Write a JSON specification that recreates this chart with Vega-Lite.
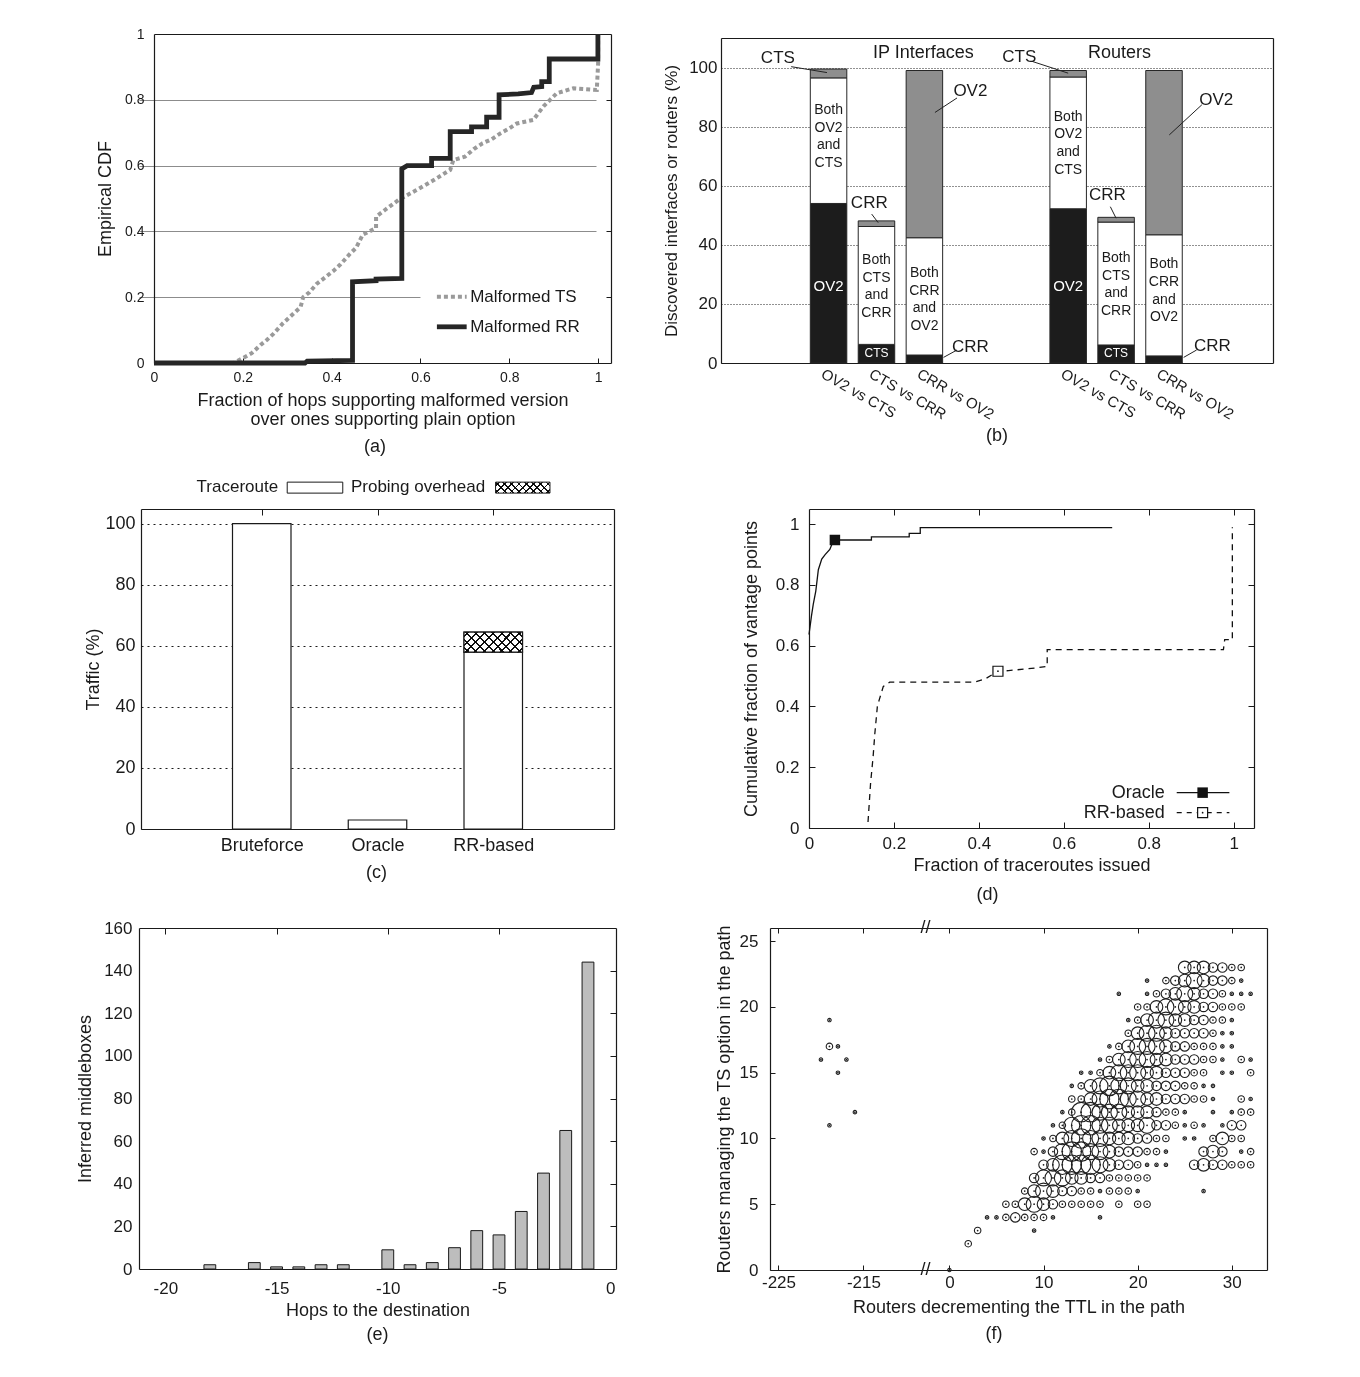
{
"$schema": "https://vega.github.io/schema/vega-lite/v6.json",
"background": "white",
"padding": {"left": 76, "top": 24, "right": 5, "bottom": 5},
"columns": 2,
"bounds": "flush",
"align": "each",
"spacing": {"row": 99, "column": 105},
"resolve": {"scale": {"color": "independent", "size": "independent"}},
"config": {
  "font": "Liberation Sans, Arial, sans-serif",
  "view": {"stroke": null},
  "axis": {"domainColor": "#1a1a1a", "tickColor": "#1a1a1a", "labelColor": "#1a1a1a", "titleColor": "#1a1a1a", "titleFontWeight": "normal", "grid": false, "labelFlush": false, "domainWidth": 1.2, "labelOverlap": false},
  "title": {"fontWeight": "normal", "color": "#1a1a1a", "fontSize": 18},
  "text": {"color": "#1a1a1a"}
},
"datasets": {
  "one": [{}],
  "aCdf": [
    {"s":"Malformed TS","i":0,"x":0,"y":0},{"s":"Malformed TS","i":1,"x":0.18,"y":0},{"s":"Malformed TS","i":2,"x":0.2,"y":0.015},{"s":"Malformed TS","i":3,"x":0.22,"y":0.03},{"s":"Malformed TS","i":4,"x":0.24,"y":0.055},{"s":"Malformed TS","i":5,"x":0.254,"y":0.07},{"s":"Malformed TS","i":6,"x":0.27,"y":0.09},{"s":"Malformed TS","i":7,"x":0.29,"y":0.12},{"s":"Malformed TS","i":8,"x":0.31,"y":0.145},{"s":"Malformed TS","i":9,"x":0.33,"y":0.17},{"s":"Malformed TS","i":10,"x":0.336,"y":0.2},{"s":"Malformed TS","i":11,"x":0.35,"y":0.215},{"s":"Malformed TS","i":12,"x":0.366,"y":0.24},{"s":"Malformed TS","i":13,"x":0.385,"y":0.26},{"s":"Malformed TS","i":14,"x":0.404,"y":0.28},{"s":"Malformed TS","i":15,"x":0.42,"y":0.3},{"s":"Malformed TS","i":16,"x":0.44,"y":0.33},{"s":"Malformed TS","i":17,"x":0.455,"y":0.35},{"s":"Malformed TS","i":18,"x":0.47,"y":0.39},{"s":"Malformed TS","i":19,"x":0.5,"y":0.41},{"s":"Malformed TS","i":20,"x":0.5,"y":0.445},{"s":"Malformed TS","i":21,"x":0.52,"y":0.465},{"s":"Malformed TS","i":22,"x":0.55,"y":0.495},{"s":"Malformed TS","i":23,"x":0.59,"y":0.525},{"s":"Malformed TS","i":24,"x":0.63,"y":0.556},{"s":"Malformed TS","i":25,"x":0.667,"y":0.587},{"s":"Malformed TS","i":26,"x":0.674,"y":0.617},{"s":"Malformed TS","i":27,"x":0.7,"y":0.627},{"s":"Malformed TS","i":28,"x":0.72,"y":0.65},{"s":"Malformed TS","i":29,"x":0.74,"y":0.668},{"s":"Malformed TS","i":30,"x":0.76,"y":0.68},{"s":"Malformed TS","i":31,"x":0.78,"y":0.698},{"s":"Malformed TS","i":32,"x":0.8,"y":0.713},{"s":"Malformed TS","i":33,"x":0.817,"y":0.728},{"s":"Malformed TS","i":34,"x":0.854,"y":0.739},{"s":"Malformed TS","i":35,"x":0.877,"y":0.78},{"s":"Malformed TS","i":36,"x":0.907,"y":0.82},{"s":"Malformed TS","i":37,"x":0.944,"y":0.835},{"s":"Malformed TS","i":38,"x":0.997,"y":0.83},{"s":"Malformed TS","i":39,"x":1.0,"y":0.91},{"s":"Malformed TS","i":40,"x":1.0,"y":1.0},
    {"s":"Malformed RR","i":0,"x":0,"y":0},{"s":"Malformed RR","i":1,"x":0.34,"y":0},{"s":"Malformed RR","i":2,"x":0.345,"y":0.006},{"s":"Malformed RR","i":3,"x":0.447,"y":0.008},{"s":"Malformed RR","i":4,"x":0.447,"y":0.247},{"s":"Malformed RR","i":5,"x":0.5,"y":0.25},{"s":"Malformed RR","i":6,"x":0.5,"y":0.255},{"s":"Malformed RR","i":7,"x":0.558,"y":0.257},{"s":"Malformed RR","i":8,"x":0.558,"y":0.59},{"s":"Malformed RR","i":9,"x":0.57,"y":0.6},{"s":"Malformed RR","i":10,"x":0.625,"y":0.6},{"s":"Malformed RR","i":11,"x":0.625,"y":0.622},{"s":"Malformed RR","i":12,"x":0.667,"y":0.622},{"s":"Malformed RR","i":13,"x":0.667,"y":0.703},{"s":"Malformed RR","i":14,"x":0.715,"y":0.703},{"s":"Malformed RR","i":15,"x":0.715,"y":0.718},{"s":"Malformed RR","i":16,"x":0.749,"y":0.718},{"s":"Malformed RR","i":17,"x":0.749,"y":0.747},{"s":"Malformed RR","i":18,"x":0.777,"y":0.747},{"s":"Malformed RR","i":19,"x":0.777,"y":0.815},{"s":"Malformed RR","i":20,"x":0.82,"y":0.818},{"s":"Malformed RR","i":21,"x":0.85,"y":0.822},{"s":"Malformed RR","i":22,"x":0.855,"y":0.838},{"s":"Malformed RR","i":23,"x":0.873,"y":0.84},{"s":"Malformed RR","i":24,"x":0.873,"y":0.855},{"s":"Malformed RR","i":25,"x":0.89,"y":0.855},{"s":"Malformed RR","i":26,"x":0.89,"y":0.924},{"s":"Malformed RR","i":27,"x":0.9995,"y":0.924},{"s":"Malformed RR","i":28,"x":0.9995,"y":1.0}
  ],
  "bBars": [
    {"pos":1,"seg":"only first","k":1,"v":54},{"pos":1,"seg":"both","k":2,"v":42.5},{"pos":1,"seg":"only second","k":3,"v":3},
    {"pos":2,"seg":"only first","k":1,"v":6.3},{"pos":2,"seg":"both","k":2,"v":39.9},{"pos":2,"seg":"only second","k":3,"v":1.9},
    {"pos":3,"seg":"only first","k":1,"v":2.7},{"pos":3,"seg":"both","k":2,"v":39.7},{"pos":3,"seg":"only second","k":3,"v":56.6},
    {"pos":6,"seg":"only first","k":1,"v":52.2},{"pos":6,"seg":"both","k":2,"v":44.6},{"pos":6,"seg":"only second","k":3,"v":2.2},
    {"pos":7,"seg":"only first","k":1,"v":6.1},{"pos":7,"seg":"both","k":2,"v":41.6},{"pos":7,"seg":"only second","k":3,"v":1.6},
    {"pos":8,"seg":"only first","k":1,"v":2.4},{"pos":8,"seg":"both","k":2,"v":41.0},{"pos":8,"seg":"only second","k":3,"v":55.6}
  ],
  "bAnnLines": [
    {"x":0.22,"y":100.3,"x2":0.967,"y2":98.3},{"x":1.9,"y":50.4,"x2":2.036,"y2":47.5},{"x":3.68,"y":89.7,"x2":3.22,"y2":84.8},{"x":3.68,"y":4.4,"x2":3.4,"y2":1.9},
    {"x":5.245,"y":102.1,"x2":6.0,"y2":98.1},{"x":6.88,"y":52.9,"x2":7.0,"y2":49.0},{"x":8.79,"y":87.4,"x2":8.11,"y2":77.2},{"x":8.68,"y":4.4,"x2":8.41,"y2":1.9}
  ],
  "bAnnText": [
    {"x":-0.058,"y":103.3,"t":"CTS"},{"x":1.85,"y":54.1,"t":"CRR"},{"x":3.96,"y":91.9,"t":"OV2"},{"x":3.96,"y":5.5,"t":"CRR"},
    {"x":4.98,"y":103.7,"t":"CTS"},{"x":6.82,"y":56.9,"t":"CRR"},{"x":9.09,"y":89.1,"t":"OV2"},{"x":9.01,"y":5.8,"t":"CRR"}
  ],
  "bTitles": [{"x":2.98,"y":104.9,"t":"IP Interfaces"},{"x":7.07,"y":105,"t":"Routers"}],
  "bInDark": [
    {"x":1,"y":85.6,"t":"Both\nOV2\nand\nCTS"},{"x":2,"y":34.9,"t":"Both\nCTS\nand\nCRR"},{"x":3,"y":30.5,"t":"Both\nCRR\nand\nOV2"},
    {"x":6,"y":83.4,"t":"Both\nOV2\nand\nCTS"},{"x":7,"y":35.6,"t":"Both\nCTS\nand\nCRR"},{"x":8,"y":33.4,"t":"Both\nCRR\nand\nOV2"}
  ],
  "bInWhite": [{"x":1,"y":26.2,"t":"OV2"},{"x":6,"y":26.2,"t":"OV2"}],
  "bInSmall": [{"x":2,"y":3.5,"t":"CTS"},{"x":7,"y":3.4,"t":"CTS"}],
  "cBars": [
    {"pos":1,"m":"Bruteforce","kind":"Traceroute","k":1,"v":100},
    {"pos":2,"m":"Oracle","kind":"Traceroute","k":1,"v":2.95},
    {"pos":3,"m":"RR-based","kind":"Traceroute","k":1,"v":57.9},
    {"pos":3,"m":"RR-based","kind":"Probing overhead","k":2,"v":6.6}
  ],
  "dLines": [
    {"s":"Oracle","i":0,"x":0,"y":0.637},{"s":"Oracle","i":1,"x":0.006,"y":0.7},{"s":"Oracle","i":2,"x":0.01,"y":0.736},{"s":"Oracle","i":3,"x":0.016,"y":0.78},{"s":"Oracle","i":4,"x":0.022,"y":0.85},{"s":"Oracle","i":5,"x":0.03,"y":0.885},{"s":"Oracle","i":6,"x":0.038,"y":0.9},{"s":"Oracle","i":7,"x":0.049,"y":0.917},{"s":"Oracle","i":8,"x":0.054,"y":0.934},{"s":"Oracle","i":9,"x":0.058,"y":0.948},{"s":"Oracle","i":10,"x":0.147,"y":0.948},{"s":"Oracle","i":11,"x":0.147,"y":0.958},{"s":"Oracle","i":12,"x":0.236,"y":0.958},{"s":"Oracle","i":13,"x":0.236,"y":0.97},{"s":"Oracle","i":14,"x":0.262,"y":0.97},{"s":"Oracle","i":15,"x":0.262,"y":0.989},{"s":"Oracle","i":16,"x":0.714,"y":0.989},
    {"s":"RR-based","i":0,"x":0.139,"y":0.02},{"s":"RR-based","i":1,"x":0.145,"y":0.147},{"s":"RR-based","i":2,"x":0.151,"y":0.235},{"s":"RR-based","i":3,"x":0.155,"y":0.31},{"s":"RR-based","i":4,"x":0.161,"y":0.4},{"s":"RR-based","i":5,"x":0.165,"y":0.42},{"s":"RR-based","i":6,"x":0.175,"y":0.466},{"s":"RR-based","i":7,"x":0.19,"y":0.48},{"s":"RR-based","i":8,"x":0.39,"y":0.48},{"s":"RR-based","i":9,"x":0.414,"y":0.49},{"s":"RR-based","i":10,"x":0.445,"y":0.516},{"s":"RR-based","i":11,"x":0.47,"y":0.518},{"s":"RR-based","i":12,"x":0.535,"y":0.527},{"s":"RR-based","i":13,"x":0.561,"y":0.532},{"s":"RR-based","i":14,"x":0.561,"y":0.587},{"s":"RR-based","i":15,"x":0.976,"y":0.587},{"s":"RR-based","i":16,"x":0.979,"y":0.62},{"s":"RR-based","i":17,"x":0.997,"y":0.62},{"s":"RR-based","i":18,"x":0.997,"y":0.99}
  ],
  "dMarkOracle": [{"x":0.061,"y":0.948}],
  "dMarkRR": [{"x":0.445,"y":0.516}],
  "eBars": [
    {"hop":-18,"n":2},{"hop":-16,"n":3},{"hop":-15,"n":1},{"hop":-14,"n":1},{"hop":-13,"n":2},{"hop":-12,"n":2},{"hop":-10,"n":9},{"hop":-9,"n":2},{"hop":-8,"n":3},{"hop":-7,"n":10},{"hop":-6,"n":18},{"hop":-5,"n":16},{"hop":-4,"n":27},{"hop":-3,"n":45},{"hop":-2,"n":65},{"hop":-1,"n":144}
  ],
  "fBreak": [{"x":-100,"y":0},{"x":-100,"y":26}],
  "fPts": [
    {"x":-219,"y":19,"s":1},{"x":-219,"y":17,"s":2},{"x":-218,"y":17,"s":1},{"x":-220,"y":16,"s":1},{"x":-217,"y":16,"s":1},{"x":-218,"y":15,"s":1},{"x":-216,"y":12,"s":1},{"x":-219,"y":11,"s":1},
    {"x":0,"y":0,"s":1},{"x":2,"y":2,"s":2},{"x":3,"y":3,"s":2},{"x":9,"y":3,"s":1},
    {"x":4,"y":4,"s":1},{"x":5,"y":4,"s":1},{"x":6,"y":4,"s":2},{"x":7,"y":4,"s":3},{"x":8,"y":4,"s":2},{"x":9,"y":4,"s":2},{"x":10,"y":4,"s":2},{"x":11,"y":4,"s":1},{"x":16,"y":4,"s":1},
    {"x":6,"y":5,"s":2},{"x":7,"y":5,"s":2},{"x":8,"y":5,"s":4},{"x":9,"y":5,"s":5},{"x":10,"y":5,"s":4},{"x":11,"y":5,"s":3},{"x":12,"y":5,"s":2},{"x":13,"y":5,"s":2},{"x":14,"y":5,"s":2},{"x":15,"y":5,"s":2},{"x":16,"y":5,"s":2},{"x":18,"y":5,"s":2},{"x":20,"y":5,"s":2},{"x":21,"y":5,"s":2},
    {"x":8,"y":6,"s":2},{"x":9,"y":6,"s":4},{"x":10,"y":6,"s":5},{"x":11,"y":6,"s":4},{"x":12,"y":6,"s":3},{"x":13,"y":6,"s":3},{"x":14,"y":6,"s":2},{"x":15,"y":6,"s":2},{"x":16,"y":6,"s":1},{"x":17,"y":6,"s":2},{"x":18,"y":6,"s":2},{"x":19,"y":6,"s":2},{"x":20,"y":6,"s":1},{"x":27,"y":6,"s":1},
    {"x":9,"y":7,"s":3},{"x":10,"y":7,"s":5},{"x":11,"y":7,"s":5},{"x":12,"y":7,"s":5},{"x":13,"y":7,"s":4},{"x":14,"y":7,"s":4},{"x":15,"y":7,"s":3},{"x":16,"y":7,"s":3},{"x":17,"y":7,"s":2},{"x":18,"y":7,"s":2},{"x":19,"y":7,"s":2},{"x":20,"y":7,"s":2},{"x":21,"y":7,"s":2},
    {"x":10,"y":8,"s":3},{"x":11,"y":8,"s":4},{"x":12,"y":8,"s":6},{"x":13,"y":8,"s":6},{"x":14,"y":8,"s":6},{"x":15,"y":8,"s":6},{"x":16,"y":8,"s":5},{"x":17,"y":8,"s":4},{"x":18,"y":8,"s":3},{"x":19,"y":8,"s":3},{"x":20,"y":8,"s":2},{"x":21,"y":8,"s":1},{"x":22,"y":8,"s":1},{"x":23,"y":8,"s":1},{"x":26,"y":8,"s":3},{"x":27,"y":8,"s":4},{"x":28,"y":8,"s":3},{"x":29,"y":8,"s":3},{"x":30,"y":8,"s":2},{"x":31,"y":8,"s":2},{"x":32,"y":8,"s":2},
    {"x":9,"y":9,"s":2},{"x":10,"y":9,"s":1},{"x":11,"y":9,"s":3},{"x":12,"y":9,"s":5},{"x":13,"y":9,"s":6},{"x":14,"y":9,"s":6},{"x":15,"y":9,"s":5},{"x":16,"y":9,"s":5},{"x":17,"y":9,"s":4},{"x":18,"y":9,"s":3},{"x":19,"y":9,"s":3},{"x":20,"y":9,"s":3},{"x":21,"y":9,"s":2},{"x":22,"y":9,"s":2},{"x":23,"y":9,"s":1},{"x":27,"y":9,"s":3},{"x":28,"y":9,"s":4},{"x":29,"y":9,"s":3},{"x":31,"y":9,"s":1},{"x":32,"y":9,"s":2},
    {"x":10,"y":10,"s":1},{"x":11,"y":10,"s":2},{"x":12,"y":10,"s":4},{"x":13,"y":10,"s":5},{"x":14,"y":10,"s":6},{"x":15,"y":10,"s":5},{"x":16,"y":10,"s":5},{"x":17,"y":10,"s":4},{"x":18,"y":10,"s":4},{"x":19,"y":10,"s":4},{"x":20,"y":10,"s":3},{"x":21,"y":10,"s":3},{"x":22,"y":10,"s":2},{"x":23,"y":10,"s":2},{"x":25,"y":10,"s":1},{"x":26,"y":10,"s":1},{"x":28,"y":10,"s":2},{"x":29,"y":10,"s":4},{"x":30,"y":10,"s":2},{"x":31,"y":10,"s":2},
    {"x":11,"y":11,"s":1},{"x":12,"y":11,"s":2},{"x":13,"y":11,"s":5},{"x":14,"y":11,"s":6},{"x":15,"y":11,"s":6},{"x":16,"y":11,"s":5},{"x":17,"y":11,"s":5},{"x":18,"y":11,"s":4},{"x":19,"y":11,"s":4},{"x":20,"y":11,"s":4},{"x":21,"y":11,"s":5},{"x":22,"y":11,"s":3},{"x":23,"y":11,"s":3},{"x":24,"y":11,"s":2},{"x":25,"y":11,"s":1},{"x":26,"y":11,"s":2},{"x":27,"y":11,"s":1},{"x":29,"y":11,"s":1},{"x":30,"y":11,"s":3},{"x":31,"y":11,"s":3},
    {"x":12,"y":12,"s":1},{"x":13,"y":12,"s":2},{"x":14,"y":12,"s":6},{"x":15,"y":12,"s":6},{"x":16,"y":12,"s":5},{"x":17,"y":12,"s":5},{"x":18,"y":12,"s":5},{"x":19,"y":12,"s":4},{"x":20,"y":12,"s":4},{"x":21,"y":12,"s":4},{"x":22,"y":12,"s":3},{"x":23,"y":12,"s":2},{"x":24,"y":12,"s":2},{"x":25,"y":12,"s":1},{"x":28,"y":12,"s":1},{"x":30,"y":12,"s":1},{"x":31,"y":12,"s":2},{"x":32,"y":12,"s":2},
    {"x":13,"y":13,"s":2},{"x":14,"y":13,"s":2},{"x":15,"y":13,"s":4},{"x":16,"y":13,"s":5},{"x":17,"y":13,"s":6},{"x":18,"y":13,"s":6},{"x":19,"y":13,"s":5},{"x":20,"y":13,"s":5},{"x":21,"y":13,"s":4},{"x":22,"y":13,"s":4},{"x":23,"y":13,"s":3},{"x":24,"y":13,"s":3},{"x":25,"y":13,"s":3},{"x":26,"y":13,"s":2},{"x":27,"y":13,"s":2},{"x":28,"y":13,"s":1},{"x":31,"y":13,"s":2},{"x":32,"y":13,"s":1},
    {"x":13,"y":14,"s":1},{"x":14,"y":14,"s":2},{"x":15,"y":14,"s":4},{"x":16,"y":14,"s":5},{"x":17,"y":14,"s":6},{"x":18,"y":14,"s":5},{"x":19,"y":14,"s":5},{"x":20,"y":14,"s":4},{"x":21,"y":14,"s":4},{"x":22,"y":14,"s":3},{"x":23,"y":14,"s":3},{"x":24,"y":14,"s":3},{"x":25,"y":14,"s":2},{"x":26,"y":14,"s":2},{"x":27,"y":14,"s":1},{"x":28,"y":14,"s":1},
    {"x":14,"y":15,"s":1},{"x":15,"y":15,"s":1},{"x":16,"y":15,"s":2},{"x":17,"y":15,"s":4},{"x":18,"y":15,"s":5},{"x":19,"y":15,"s":5},{"x":20,"y":15,"s":5},{"x":21,"y":15,"s":4},{"x":22,"y":15,"s":4},{"x":23,"y":15,"s":3},{"x":24,"y":15,"s":3},{"x":25,"y":15,"s":3},{"x":26,"y":15,"s":2},{"x":27,"y":15,"s":2},{"x":29,"y":15,"s":1},{"x":30,"y":15,"s":1},{"x":32,"y":15,"s":2},
    {"x":16,"y":16,"s":1},{"x":17,"y":16,"s":2},{"x":18,"y":16,"s":4},{"x":19,"y":16,"s":5},{"x":20,"y":16,"s":5},{"x":21,"y":16,"s":5},{"x":22,"y":16,"s":4},{"x":23,"y":16,"s":4},{"x":24,"y":16,"s":3},{"x":25,"y":16,"s":3},{"x":26,"y":16,"s":3},{"x":27,"y":16,"s":2},{"x":28,"y":16,"s":2},{"x":29,"y":16,"s":1},{"x":31,"y":16,"s":2},{"x":32,"y":16,"s":1},
    {"x":17,"y":17,"s":1},{"x":18,"y":17,"s":2},{"x":19,"y":17,"s":4},{"x":20,"y":17,"s":5},{"x":21,"y":17,"s":5},{"x":22,"y":17,"s":5},{"x":23,"y":17,"s":4},{"x":24,"y":17,"s":3},{"x":25,"y":17,"s":3},{"x":26,"y":17,"s":2},{"x":27,"y":17,"s":2},{"x":28,"y":17,"s":2},{"x":29,"y":17,"s":1},{"x":30,"y":17,"s":1},
    {"x":19,"y":18,"s":2},{"x":20,"y":18,"s":4},{"x":21,"y":18,"s":5},{"x":22,"y":18,"s":5},{"x":23,"y":18,"s":4},{"x":24,"y":18,"s":3},{"x":25,"y":18,"s":3},{"x":26,"y":18,"s":3},{"x":27,"y":18,"s":3},{"x":28,"y":18,"s":2},{"x":29,"y":18,"s":1},{"x":30,"y":18,"s":1},
    {"x":19,"y":19,"s":1},{"x":20,"y":19,"s":2},{"x":21,"y":19,"s":4},{"x":22,"y":19,"s":5},{"x":23,"y":19,"s":5},{"x":24,"y":19,"s":4},{"x":25,"y":19,"s":4},{"x":26,"y":19,"s":3},{"x":27,"y":19,"s":3},{"x":28,"y":19,"s":2},{"x":29,"y":19,"s":2},{"x":30,"y":19,"s":1},
    {"x":20,"y":20,"s":2},{"x":21,"y":20,"s":2},{"x":22,"y":20,"s":4},{"x":23,"y":20,"s":5},{"x":24,"y":20,"s":5},{"x":25,"y":20,"s":4},{"x":26,"y":20,"s":4},{"x":27,"y":20,"s":3},{"x":28,"y":20,"s":3},{"x":29,"y":20,"s":2},{"x":30,"y":20,"s":2},{"x":31,"y":20,"s":2},
    {"x":18,"y":21,"s":1},{"x":21,"y":21,"s":1},{"x":22,"y":21,"s":2},{"x":23,"y":21,"s":3},{"x":24,"y":21,"s":4},{"x":25,"y":21,"s":5},{"x":26,"y":21,"s":4},{"x":27,"y":21,"s":3},{"x":28,"y":21,"s":3},{"x":29,"y":21,"s":2},{"x":30,"y":21,"s":1},{"x":31,"y":21,"s":1},{"x":32,"y":21,"s":1},
    {"x":21,"y":22,"s":1},{"x":23,"y":22,"s":2},{"x":24,"y":22,"s":3},{"x":25,"y":22,"s":4},{"x":26,"y":22,"s":5},{"x":27,"y":22,"s":4},{"x":28,"y":22,"s":3},{"x":29,"y":22,"s":3},{"x":30,"y":22,"s":2},{"x":31,"y":22,"s":1},
    {"x":25,"y":23,"s":4},{"x":26,"y":23,"s":4},{"x":27,"y":23,"s":4},{"x":28,"y":23,"s":3},{"x":29,"y":23,"s":3},{"x":30,"y":23,"s":2},{"x":31,"y":23,"s":2}
  ]
},
"concat": [
  {
    "width": 472, "height": 376,
    "title": {"text": "(a)", "orient": "bottom", "offset": 10, "fontSize": 18},
    "layer": [
      {
        "data": {"name": "aCdf"},
        "transform": [{"filter": "datum.s === 'Malformed TS'"}],
        "mark": {"type": "line", "strokeCap": "butt", "color": "#9a9a9a", "strokeWidth": 4, "strokeDash": [4, 3]},
        "encoding": {
          "x": {"field": "x", "type": "quantitative", "scale": {"domain": [0, 1.029], "range": [15, 472], "nice": false, "zero": false},
            "axis": {"orient": "bottom", "offset": -47, "values": [0, 0.2, 0.4, 0.6, 0.8, 1], "format": "~g", "tickSize": -5, "labelPadding": 12, "labelFontSize": 14, "title": ["Fraction of hops supporting malformed version", "over ones supporting plain option"], "titleFontSize": 18, "titleLineHeight": 19, "titlePadding": 7}},
          "y": {"field": "y", "type": "quantitative", "scale": {"domain": [0, 1], "range": [329, 0], "nice": false},
            "axis": {"orient": "left", "offset": -15, "values": [0, 0.2, 0.4, 0.6, 0.8, 1], "format": "~g", "ticks": false, "labelPadding": 10, "labelFontSize": 14, "title": "Empirical CDF", "titleFontSize": 18, "titlePadding": 10}},
          "order": {"field": "i"}
        }
      },
      {
        "data": {"name": "aCdf"},
        "transform": [{"filter": "datum.s === 'Malformed RR'"}],
        "mark": {"type": "line", "strokeCap": "butt", "color": "#262626", "strokeWidth": 4.8},
        "encoding": {
          "x": {"field": "x", "type": "quantitative", "axis": {"orient": "top", "labels": false, "ticks": false, "title": null}},
          "y": {"field": "y", "type": "quantitative", "axis": {"orient": "right", "labels": false, "values": [0.2, 0.4, 0.6, 0.8], "tickSize": -5, "grid": true, "gridColor": "#8c8c8c", "gridWidth": 1, "title": null}},
          "order": {"field": "i"}
        }
      },
      {
        "data": {"name": "one"},
        "mark": {"type": "rect", "fill": "#ffffff"},
        "encoding": {"x": {"datum": 0.6, "type": "quantitative", "axis": null}, "x2": {"datum": 1.015}, "y": {"datum": 0.193, "type": "quantitative", "axis": null}, "y2": {"datum": 0.207}}
      },
      {
        "data": {"name": "one"},
        "mark": {"type": "rule", "color": "#9a9a9a", "strokeWidth": 4, "strokeDash": [4, 3], "strokeCap": "butt"},
        "encoding": {"x": {"datum": 0.637, "type": "quantitative", "axis": null}, "x2": {"datum": 0.704}, "y": {"datum": 0.2015, "type": "quantitative", "axis": null}}
      },
      {
        "data": {"name": "one"},
        "mark": {"type": "rule", "color": "#262626", "strokeWidth": 4.8, "strokeCap": "butt"},
        "encoding": {"x": {"datum": 0.637, "type": "quantitative", "axis": null}, "x2": {"datum": 0.704}, "y": {"datum": 0.11, "type": "quantitative", "axis": null}}
      },
      {
        "data": {"name": "one"},
        "mark": {"type": "text", "text": "Malformed TS", "fontSize": 17, "align": "left", "baseline": "middle"},
        "encoding": {"x": {"datum": 0.712, "type": "quantitative", "axis": null}, "y": {"datum": 0.2015, "type": "quantitative", "axis": null}}
      },
      {
        "data": {"name": "one"},
        "mark": {"type": "text", "text": "Malformed RR", "fontSize": 17, "align": "left", "baseline": "middle"},
        "encoding": {"x": {"datum": 0.712, "type": "quantitative", "axis": null}, "y": {"datum": 0.11, "type": "quantitative", "axis": null}}
      }
    ],
    "resolve": {"axis": {"x": "independent", "y": "independent"}}
  },
  {
    "width": 552, "height": 329,
    "title": {"text": "(b)", "orient": "bottom", "offset": 5, "fontSize": 18},
    "layer": [
      {
        "data": {"name": "bBars"},
        "mark": {"type": "bar", "width": 36.5, "stroke": "#262626", "strokeWidth": 1},
        "encoding": {
          "x": {"field": "pos", "type": "quantitative", "scale": {"domain": [-1.14, 10.17], "nice": false, "zero": false},
            "axis": {"orient": "bottom", "values": [1, 2, 3, 6, 7, 8], "labelExpr": "datum.value == 1 || datum.value == 6 ? 'OV2 vs CTS' : (datum.value == 2 || datum.value == 7 ? 'CTS vs CRR' : 'CRR vs OV2')", "labelAngle": 30, "labelAlign": "left", "labelBaseline": "top", "ticks": false, "labelPadding": 3, "labelOffset": -3, "labelFontSize": 15, "title": null}},
          "y": {"field": "v", "type": "quantitative", "stack": "zero", "scale": {"domain": [0, 110], "range": [329, 4], "nice": false},
            "axis": {"orient": "left", "values": [0, 20, 40, 60, 80, 100], "ticks": false, "labelPadding": 4, "labelFontSize": 17, "grid": true, "gridDash": [1, 2], "gridColor": "#222", "title": "Discovered interfaces or routers (%)", "titleFontSize": 17, "titlePadding": 8}},
          "color": {"field": "seg", "type": "nominal", "scale": {"domain": ["only first", "both", "only second"], "range": ["#1c1c1c", "#ffffff", "#8e8e8e"]}, "legend": null},
          "order": {"field": "k"}
        }
      },
      {
        "data": {"name": "bAnnLines"},
        "mark": {"type": "rule", "stroke": "#222", "strokeWidth": 1},
        "encoding": {
          "x": {"field": "x", "type": "quantitative", "axis": {"orient": "top", "offset": -4, "labels": false, "ticks": false, "title": null}},
          "y": {"field": "y", "type": "quantitative", "axis": {"orient": "right", "labels": false, "ticks": false, "title": null}},
          "x2": {"field": "x2"}, "y2": {"field": "y2"}
        }
      },
      {
        "data": {"name": "bAnnText"},
        "mark": {"type": "text", "fontSize": 17, "baseline": "middle"},
        "encoding": {"x": {"field": "x", "type": "quantitative", "axis": null}, "y": {"field": "y", "type": "quantitative", "axis": null}, "text": {"field": "t"}}
      },
      {
        "data": {"name": "bTitles"},
        "mark": {"type": "text", "fontSize": 18, "baseline": "middle"},
        "encoding": {"x": {"field": "x", "type": "quantitative", "axis": null}, "y": {"field": "y", "type": "quantitative", "axis": null}, "text": {"field": "t"}}
      },
      {
        "data": {"name": "bInDark"},
        "mark": {"type": "text", "fontSize": 14, "lineHeight": 17.7, "lineBreak": "\n", "baseline": "middle"},
        "encoding": {"x": {"field": "x", "type": "quantitative", "axis": null}, "y": {"field": "y", "type": "quantitative", "axis": null}, "text": {"field": "t"}}
      },
      {
        "data": {"name": "bInWhite"},
        "mark": {"type": "text", "fontSize": 15, "color": "#ffffff", "baseline": "middle"},
        "encoding": {"x": {"field": "x", "type": "quantitative", "axis": null}, "y": {"field": "y", "type": "quantitative", "axis": null}, "text": {"field": "t"}}
      },
      {
        "data": {"name": "bInSmall"},
        "mark": {"type": "text", "fontSize": 12, "color": "#ffffff", "baseline": "middle"},
        "encoding": {"x": {"field": "x", "type": "quantitative", "axis": null}, "y": {"field": "y", "type": "quantitative", "axis": null}, "text": {"field": "t"}}
      }
    ],
    "resolve": {"axis": {"x": "independent", "y": "independent"}}
  },
  {
    "width": 475, "height": 320,
    "title": {"text": "(c)", "orient": "bottom", "offset": 10, "fontSize": 18},
    "layer": [
      {
        "data": {"name": "cBars"},
        "transform": [{"stack": "v", "groupby": ["pos"], "sort": [{"field": "k", "order": "ascending"}], "as": ["v0", "v1"]}],
        "mark": {"type": "bar", "width": 58.5, "fill": "#ffffff", "stroke": "#1a1a1a", "strokeWidth": 1.2},
        "encoding": {
          "x": {"field": "pos", "type": "quantitative", "scale": {"domain": [0, 4], "range": [2, 475], "nice": false, "zero": false},
            "axis": {"orient": "bottom", "values": [1, 2, 3], "labelExpr": "datum.value == 1 ? 'Bruteforce' : (datum.value == 2 ? 'Oracle' : 'RR-based')", "ticks": false, "labelPadding": 7, "labelFontSize": 18, "title": null}},
          "y": {"field": "v0", "type": "quantitative", "scale": {"domain": [0, 104.8], "nice": false},
            "axis": {"orient": "left", "offset": -2, "values": [0, 20, 40, 60, 80, 100], "ticks": false, "labelPadding": 6, "labelFontSize": 18, "grid": true, "gridDash": [2, 4], "gridColor": "#1a1a1a", "title": "Traffic (%)", "titleFontSize": 18, "titlePadding": 2}},
          "y2": {"field": "v1"}
        }
      },
      {
        "data": {"name": "cBars"},
        "transform": [{"stack": "v", "groupby": ["pos"], "sort": [{"field": "k", "order": "ascending"}], "as": ["v0", "v1"]}, {"filter": "datum.kind === 'Probing overhead'"}],
        "mark": {"type": "bar", "width": 58.5, "fill": {"gradient": "linear", "x1": 0, "y1": 0, "x2": 1.2, "y2": 0.41, "stops": [
          {"offset": 0, "color": "#ffffff"},
          {"offset": 0.0426, "color": "#ffffff"}, {"offset": 0.0426, "color": "#111111"}, {"offset": 0.0686, "color": "#111111"}, {"offset": 0.0686, "color": "#ffffff"},
          {"offset": 0.1537, "color": "#ffffff"}, {"offset": 0.1537, "color": "#111111"}, {"offset": 0.1797, "color": "#111111"}, {"offset": 0.1797, "color": "#ffffff"},
          {"offset": 0.2648, "color": "#ffffff"}, {"offset": 0.2648, "color": "#111111"}, {"offset": 0.2908, "color": "#111111"}, {"offset": 0.2908, "color": "#ffffff"},
          {"offset": 0.3759, "color": "#ffffff"}, {"offset": 0.3759, "color": "#111111"}, {"offset": 0.4019, "color": "#111111"}, {"offset": 0.4019, "color": "#ffffff"},
          {"offset": 0.487, "color": "#ffffff"}, {"offset": 0.487, "color": "#111111"}, {"offset": 0.513, "color": "#111111"}, {"offset": 0.513, "color": "#ffffff"},
          {"offset": 0.5981, "color": "#ffffff"}, {"offset": 0.5981, "color": "#111111"}, {"offset": 0.6241, "color": "#111111"}, {"offset": 0.6241, "color": "#ffffff"},
          {"offset": 0.7092, "color": "#ffffff"}, {"offset": 0.7092, "color": "#111111"}, {"offset": 0.7352, "color": "#111111"}, {"offset": 0.7352, "color": "#ffffff"},
          {"offset": 0.8203, "color": "#ffffff"}, {"offset": 0.8203, "color": "#111111"}, {"offset": 0.8463, "color": "#111111"}, {"offset": 0.8463, "color": "#ffffff"},
          {"offset": 0.9314, "color": "#ffffff"}, {"offset": 0.9314, "color": "#111111"}, {"offset": 0.9574, "color": "#111111"}, {"offset": 0.9574, "color": "#ffffff"},
          {"offset": 1, "color": "#ffffff"}]}},
        "encoding": {"x": {"field": "pos", "type": "quantitative", "axis": null}, "y": {"field": "v0", "type": "quantitative", "axis": null}, "y2": {"field": "v1"}}
      },
      {
        "data": {"name": "cBars"},
        "transform": [{"stack": "v", "groupby": ["pos"], "sort": [{"field": "k", "order": "ascending"}], "as": ["v0", "v1"]}, {"filter": "datum.kind === 'Probing overhead'"}],
        "mark": {"type": "bar", "width": 58.5, "blend": "multiply", "fill": {"gradient": "linear", "x1": 0, "y1": 1, "x2": 1.2, "y2": 0.59, "stops": [
          {"offset": 0, "color": "#ffffff"},
          {"offset": 0.0426, "color": "#ffffff"}, {"offset": 0.0426, "color": "#111111"}, {"offset": 0.0686, "color": "#111111"}, {"offset": 0.0686, "color": "#ffffff"},
          {"offset": 0.1537, "color": "#ffffff"}, {"offset": 0.1537, "color": "#111111"}, {"offset": 0.1797, "color": "#111111"}, {"offset": 0.1797, "color": "#ffffff"},
          {"offset": 0.2648, "color": "#ffffff"}, {"offset": 0.2648, "color": "#111111"}, {"offset": 0.2908, "color": "#111111"}, {"offset": 0.2908, "color": "#ffffff"},
          {"offset": 0.3759, "color": "#ffffff"}, {"offset": 0.3759, "color": "#111111"}, {"offset": 0.4019, "color": "#111111"}, {"offset": 0.4019, "color": "#ffffff"},
          {"offset": 0.487, "color": "#ffffff"}, {"offset": 0.487, "color": "#111111"}, {"offset": 0.513, "color": "#111111"}, {"offset": 0.513, "color": "#ffffff"},
          {"offset": 0.5981, "color": "#ffffff"}, {"offset": 0.5981, "color": "#111111"}, {"offset": 0.6241, "color": "#111111"}, {"offset": 0.6241, "color": "#ffffff"},
          {"offset": 0.7092, "color": "#ffffff"}, {"offset": 0.7092, "color": "#111111"}, {"offset": 0.7352, "color": "#111111"}, {"offset": 0.7352, "color": "#ffffff"},
          {"offset": 0.8203, "color": "#ffffff"}, {"offset": 0.8203, "color": "#111111"}, {"offset": 0.8463, "color": "#111111"}, {"offset": 0.8463, "color": "#ffffff"},
          {"offset": 0.9314, "color": "#ffffff"}, {"offset": 0.9314, "color": "#111111"}, {"offset": 0.9574, "color": "#111111"}, {"offset": 0.9574, "color": "#ffffff"},
          {"offset": 1, "color": "#ffffff"}]}},
        "encoding": {"x": {"field": "pos", "type": "quantitative", "axis": {"orient": "top", "values": [1, 2, 3], "tickSize": -6, "labels": false, "title": null}},
          "y": {"field": "v0", "type": "quantitative", "axis": {"orient": "right", "labels": false, "ticks": false, "title": null}}, "y2": {"field": "v1"}}
      },
      {
        "data": {"name": "cBars"},
        "transform": [{"stack": "v", "groupby": ["pos"], "sort": [{"field": "k", "order": "ascending"}], "as": ["v0", "v1"]}, {"filter": "datum.kind === 'Probing overhead'"}],
        "mark": {"type": "bar", "width": 58.5, "fillOpacity": 0, "stroke": "#1a1a1a", "strokeWidth": 1.2},
        "encoding": {"x": {"field": "pos", "type": "quantitative", "axis": null}, "y": {"field": "v0", "type": "quantitative", "axis": null}, "y2": {"field": "v1"}}
      },
      {
        "data": {"name": "one"},
        "mark": {"type": "text", "text": "Traceroute", "fontSize": 17, "align": "right", "baseline": "middle"},
        "encoding": {"x": {"datum": 1.142, "type": "quantitative", "axis": null}, "y": {"datum": 111.9, "type": "quantitative", "axis": null}}
      },
      {
        "data": {"name": "one"},
        "mark": {"type": "rect", "fill": "#ffffff", "stroke": "#1a1a1a", "strokeWidth": 1},
        "encoding": {"x": {"datum": 1.22, "type": "quantitative", "axis": null}, "x2": {"datum": 1.7}, "y": {"datum": 110.0, "type": "quantitative", "axis": null}, "y2": {"datum": 113.6}}
      },
      {
        "data": {"name": "one"},
        "mark": {"type": "text", "text": "Probing overhead", "fontSize": 17, "align": "right", "baseline": "middle"},
        "encoding": {"x": {"datum": 2.93, "type": "quantitative", "axis": null}, "y": {"datum": 111.9, "type": "quantitative", "axis": null}}
      },
      {
        "data": {"name": "one"},
        "mark": {"type": "rect", "fill": {"gradient": "linear", "x1": 0, "y1": 0, "x2": 1.15, "y2": 0.23, "stops": [
          {"offset": 0, "color": "#ffffff"},
          {"offset": 0.0426, "color": "#ffffff"}, {"offset": 0.0426, "color": "#111111"}, {"offset": 0.0686, "color": "#111111"}, {"offset": 0.0686, "color": "#ffffff"},
          {"offset": 0.1537, "color": "#ffffff"}, {"offset": 0.1537, "color": "#111111"}, {"offset": 0.1797, "color": "#111111"}, {"offset": 0.1797, "color": "#ffffff"},
          {"offset": 0.2648, "color": "#ffffff"}, {"offset": 0.2648, "color": "#111111"}, {"offset": 0.2908, "color": "#111111"}, {"offset": 0.2908, "color": "#ffffff"},
          {"offset": 0.3759, "color": "#ffffff"}, {"offset": 0.3759, "color": "#111111"}, {"offset": 0.4019, "color": "#111111"}, {"offset": 0.4019, "color": "#ffffff"},
          {"offset": 0.487, "color": "#ffffff"}, {"offset": 0.487, "color": "#111111"}, {"offset": 0.513, "color": "#111111"}, {"offset": 0.513, "color": "#ffffff"},
          {"offset": 0.5981, "color": "#ffffff"}, {"offset": 0.5981, "color": "#111111"}, {"offset": 0.6241, "color": "#111111"}, {"offset": 0.6241, "color": "#ffffff"},
          {"offset": 0.7092, "color": "#ffffff"}, {"offset": 0.7092, "color": "#111111"}, {"offset": 0.7352, "color": "#111111"}, {"offset": 0.7352, "color": "#ffffff"},
          {"offset": 0.8203, "color": "#ffffff"}, {"offset": 0.8203, "color": "#111111"}, {"offset": 0.8463, "color": "#111111"}, {"offset": 0.8463, "color": "#ffffff"},
          {"offset": 0.9314, "color": "#ffffff"}, {"offset": 0.9314, "color": "#111111"}, {"offset": 0.9574, "color": "#111111"}, {"offset": 0.9574, "color": "#ffffff"},
          {"offset": 1, "color": "#ffffff"}]}},
        "encoding": {"x": {"datum": 3.02, "type": "quantitative", "axis": null}, "x2": {"datum": 3.49}, "y": {"datum": 110.0, "type": "quantitative", "axis": null}, "y2": {"datum": 113.6}}
      },
      {
        "data": {"name": "one"},
        "mark": {"type": "rect", "blend": "multiply", "fill": {"gradient": "linear", "x1": 0, "y1": 1, "x2": 1.15, "y2": 0.77, "stops": [
          {"offset": 0, "color": "#ffffff"},
          {"offset": 0.0426, "color": "#ffffff"}, {"offset": 0.0426, "color": "#111111"}, {"offset": 0.0686, "color": "#111111"}, {"offset": 0.0686, "color": "#ffffff"},
          {"offset": 0.1537, "color": "#ffffff"}, {"offset": 0.1537, "color": "#111111"}, {"offset": 0.1797, "color": "#111111"}, {"offset": 0.1797, "color": "#ffffff"},
          {"offset": 0.2648, "color": "#ffffff"}, {"offset": 0.2648, "color": "#111111"}, {"offset": 0.2908, "color": "#111111"}, {"offset": 0.2908, "color": "#ffffff"},
          {"offset": 0.3759, "color": "#ffffff"}, {"offset": 0.3759, "color": "#111111"}, {"offset": 0.4019, "color": "#111111"}, {"offset": 0.4019, "color": "#ffffff"},
          {"offset": 0.487, "color": "#ffffff"}, {"offset": 0.487, "color": "#111111"}, {"offset": 0.513, "color": "#111111"}, {"offset": 0.513, "color": "#ffffff"},
          {"offset": 0.5981, "color": "#ffffff"}, {"offset": 0.5981, "color": "#111111"}, {"offset": 0.6241, "color": "#111111"}, {"offset": 0.6241, "color": "#ffffff"},
          {"offset": 0.7092, "color": "#ffffff"}, {"offset": 0.7092, "color": "#111111"}, {"offset": 0.7352, "color": "#111111"}, {"offset": 0.7352, "color": "#ffffff"},
          {"offset": 0.8203, "color": "#ffffff"}, {"offset": 0.8203, "color": "#111111"}, {"offset": 0.8463, "color": "#111111"}, {"offset": 0.8463, "color": "#ffffff"},
          {"offset": 0.9314, "color": "#ffffff"}, {"offset": 0.9314, "color": "#111111"}, {"offset": 0.9574, "color": "#111111"}, {"offset": 0.9574, "color": "#ffffff"},
          {"offset": 1, "color": "#ffffff"}]}},
        "encoding": {"x": {"datum": 3.02, "type": "quantitative", "axis": null}, "x2": {"datum": 3.49}, "y": {"datum": 110.0, "type": "quantitative", "axis": null}, "y2": {"datum": 113.6}}
      },
      {
        "data": {"name": "one"},
        "mark": {"type": "rect", "fillOpacity": 0, "stroke": "#1a1a1a", "strokeWidth": 1},
        "encoding": {"x": {"datum": 3.02, "type": "quantitative", "axis": null}, "x2": {"datum": 3.49}, "y": {"datum": 110.0, "type": "quantitative", "axis": null}, "y2": {"datum": 113.6}}
      }
    ],
    "resolve": {"axis": {"x": "independent", "y": "independent"}}
  },
  {
    "width": 533, "height": 319,
    "title": {"text": "(d)", "orient": "bottom", "offset": 12, "fontSize": 18},
    "layer": [
      {
        "data": {"name": "dLines"},
        "transform": [{"filter": "datum.s === 'Oracle'"}],
        "mark": {"type": "line", "strokeWidth": 1.3, "color": "#111111"},
        "encoding": {
          "x": {"field": "x", "type": "quantitative", "scale": {"domain": [0, 1.048], "range": [88, 533], "nice": false, "zero": false},
            "axis": {"orient": "bottom", "values": [0, 0.2, 0.4, 0.6, 0.8, 1], "format": "~g", "tickSize": -6, "labelPadding": 13, "labelFontSize": 17, "title": "Fraction of traceroutes issued", "titleFontSize": 18, "titlePadding": 5}},
          "y": {"field": "y", "type": "quantitative", "scale": {"domain": [0, 1.05], "nice": false},
            "axis": {"orient": "left", "offset": -88, "values": [0, 0.2, 0.4, 0.6, 0.8, 1], "format": "~g", "tickSize": -6, "labelPadding": 16, "labelFontSize": 17, "title": "Cumulative fraction of vantage points", "titleFontSize": 18, "titlePadding": 15}},
          "order": {"field": "i"}
        }
      },
      {
        "data": {"name": "dLines"},
        "transform": [{"filter": "datum.s === 'RR-based'"}],
        "mark": {"type": "line", "strokeWidth": 1.3, "color": "#111111", "strokeDash": [6, 5]},
        "encoding": {
          "x": {"field": "x", "type": "quantitative", "axis": {"orient": "top", "values": [0.2, 0.4, 0.6, 0.8, 1], "tickSize": -6, "labels": false, "title": null}},
          "y": {"field": "y", "type": "quantitative", "axis": {"orient": "right", "values": [0.2, 0.4, 0.6, 0.8, 1], "tickSize": -6, "labels": false, "title": null}},
          "order": {"field": "i"}
        }
      },
      {
        "data": {"name": "dMarkOracle"},
        "mark": {"type": "point", "shape": "square", "filled": true, "size": 110, "color": "#111111", "opacity": 1},
        "encoding": {"x": {"field": "x", "type": "quantitative", "axis": null}, "y": {"field": "y", "type": "quantitative", "axis": null}}
      },
      {
        "data": {"name": "dMarkRR"},
        "mark": {"type": "point", "shape": "square", "filled": true, "size": 100, "fill": "#ffffff", "stroke": "#111111", "strokeWidth": 1.2, "opacity": 1},
        "encoding": {"x": {"field": "x", "type": "quantitative", "axis": null}, "y": {"field": "y", "type": "quantitative", "axis": null}}
      },
      {
        "data": {"name": "dMarkRR"},
        "mark": {"type": "point", "shape": "circle", "filled": true, "size": 3, "color": "#111111", "opacity": 1},
        "encoding": {"x": {"field": "x", "type": "quantitative", "axis": null}, "y": {"field": "y", "type": "quantitative", "axis": null}}
      },
      {
        "data": {"name": "one"},
        "mark": {"type": "rule", "color": "#111111", "strokeWidth": 1.3},
        "encoding": {"x": {"datum": 0.866, "type": "quantitative", "axis": null}, "x2": {"datum": 0.99}, "y": {"datum": 0.1164, "type": "quantitative", "axis": null}}
      },
      {
        "data": {"name": "one"},
        "mark": {"type": "rule", "color": "#111111", "strokeWidth": 1.3, "strokeDash": [5, 5]},
        "encoding": {"x": {"datum": 0.866, "type": "quantitative", "axis": null}, "x2": {"datum": 0.99}, "y": {"datum": 0.0504, "type": "quantitative", "axis": null}}
      },
      {
        "data": {"name": "one"},
        "mark": {"type": "point", "shape": "square", "filled": true, "size": 110, "color": "#111111", "opacity": 1},
        "encoding": {"x": {"datum": 0.927, "type": "quantitative", "axis": null}, "y": {"datum": 0.1164, "type": "quantitative", "axis": null}}
      },
      {
        "data": {"name": "one"},
        "mark": {"type": "point", "shape": "square", "filled": true, "size": 100, "fill": "#ffffff", "stroke": "#111111", "strokeWidth": 1.2, "opacity": 1},
        "encoding": {"x": {"datum": 0.927, "type": "quantitative", "axis": null}, "y": {"datum": 0.0504, "type": "quantitative", "axis": null}}
      },
      {
        "data": {"name": "one"},
        "mark": {"type": "point", "shape": "circle", "filled": true, "size": 3, "color": "#111111", "opacity": 1},
        "encoding": {"x": {"datum": 0.927, "type": "quantitative", "axis": null}, "y": {"datum": 0.0504, "type": "quantitative", "axis": null}}
      },
      {
        "data": {"name": "one"},
        "mark": {"type": "text", "text": "Oracle", "fontSize": 18, "align": "right", "baseline": "middle"},
        "encoding": {"x": {"datum": 0.838, "type": "quantitative", "axis": null}, "y": {"datum": 0.1164, "type": "quantitative", "axis": null}}
      },
      {
        "data": {"name": "one"},
        "mark": {"type": "text", "text": "RR-based", "fontSize": 18, "align": "right", "baseline": "middle"},
        "encoding": {"x": {"datum": 0.838, "type": "quantitative", "axis": null}, "y": {"datum": 0.0504, "type": "quantitative", "axis": null}}
      }
    ],
    "resolve": {"axis": {"x": "independent", "y": "independent"}}
  },
  {
    "width": 477, "height": 341,
    "title": {"text": "(e)", "orient": "bottom", "offset": 7, "fontSize": 18},
    "data": {"name": "eBars"},
    "layer": [
      {
        "mark": {"type": "bar", "width": 11.8, "fill": "#bdbdbd", "stroke": "#1a1a1a", "strokeWidth": 1},
        "encoding": {
          "x": {"field": "hop", "type": "quantitative", "scale": {"domain": [-20.96, 0.035], "nice": false, "zero": false},
            "axis": {"orient": "bottom", "values": [-20, -15, -10, -5, 0], "labelExpr": "'' + datum.value", "ticks": false, "labelPadding": 11, "labelFontSize": 17, "title": "Hops to the destination", "titleFontSize": 18, "titlePadding": 5}},
          "y": {"field": "n", "type": "quantitative", "scale": {"domain": [0, 160], "nice": false},
            "axis": {"orient": "left", "values": [0, 20, 40, 60, 80, 100, 120, 140, 160], "ticks": false, "labelPadding": 7, "labelFontSize": 17, "title": "Inferred middleboxes", "titleFontSize": 18, "titlePadding": 9}}
        }
      },
      {
        "mark": {"type": "point", "opacity": 0},
        "encoding": {
          "x": {"field": "hop", "type": "quantitative", "axis": {"orient": "top", "values": [-20, -15, -10, -5], "tickSize": -6, "labels": false, "title": null}},
          "y": {"field": "n", "type": "quantitative", "axis": {"orient": "right", "values": [20, 40, 60, 80, 100, 120, 140], "tickSize": -6, "labels": false, "title": null}}
        }
      }
    ],
    "resolve": {"axis": {"x": "independent", "y": "independent"}}
  },
  {
    "width": 546, "height": 342,
    "title": {"text": "(f)", "orient": "bottom", "offset": 9, "fontSize": 18},
    "layer": [
      {
        "data": {"name": "fPts"},
        "mark": {"type": "point", "shape": "circle", "filled": false, "color": "#1f1f1f", "strokeWidth": 1.1, "opacity": 1},
        "encoding": {
          "x": {"field": "x", "type": "quantitative", "scale": {"domain": [-226, -207.7, -2.55, 33.74], "range": [49, 204.4, 204.4, 546], "nice": false, "zero": false},
            "axis": {"orient": "bottom", "values": [-225, -215, 0, 10, 20, 30], "labelExpr": "'' + datum.value", "tickSize": -5, "labelPadding": 9, "labelFontSize": 17, "title": "Routers decrementing the TTL in the path", "titleFontSize": 18, "titlePadding": 8}},
          "y": {"field": "y", "type": "quantitative", "scale": {"domain": [0, 26], "nice": false},
            "axis": {"orient": "left", "offset": -49, "values": [0, 5, 10, 15, 20, 25], "tickSize": -5, "labelPadding": 17, "labelFontSize": 17, "title": "Routers managing the TS option in the path", "titleFontSize": 18, "titlePadding": 6}},
          "size": {"field": "s", "type": "quantitative", "scale": {"type": "threshold", "domain": [1.5, 2.5, 3.5, 4.5, 5.5], "range": [12, 42, 90, 160, 256, 380]}, "legend": null}
        }
      },
      {
        "data": {"name": "fPts"},
        "mark": {"type": "point", "shape": "circle", "filled": true, "size": 3, "color": "#1f1f1f", "opacity": 1},
        "encoding": {
          "x": {"field": "x", "type": "quantitative", "axis": {"orient": "top", "values": [-225, -215, 0, 10, 20, 30], "tickSize": -5, "labels": false, "title": null}},
          "y": {"field": "y", "type": "quantitative", "axis": {"orient": "right", "labels": false, "ticks": false, "title": null}}
        }
      },
      {
        "data": {"name": "fBreak"},
        "mark": {"type": "text", "text": "//", "fontSize": 18, "baseline": "middle"},
        "encoding": {"x": {"field": "x", "type": "quantitative", "axis": null}, "y": {"field": "y", "type": "quantitative", "axis": null}}
      }
    ],
    "resolve": {"axis": {"x": "independent", "y": "independent"}}
  }
]
}
